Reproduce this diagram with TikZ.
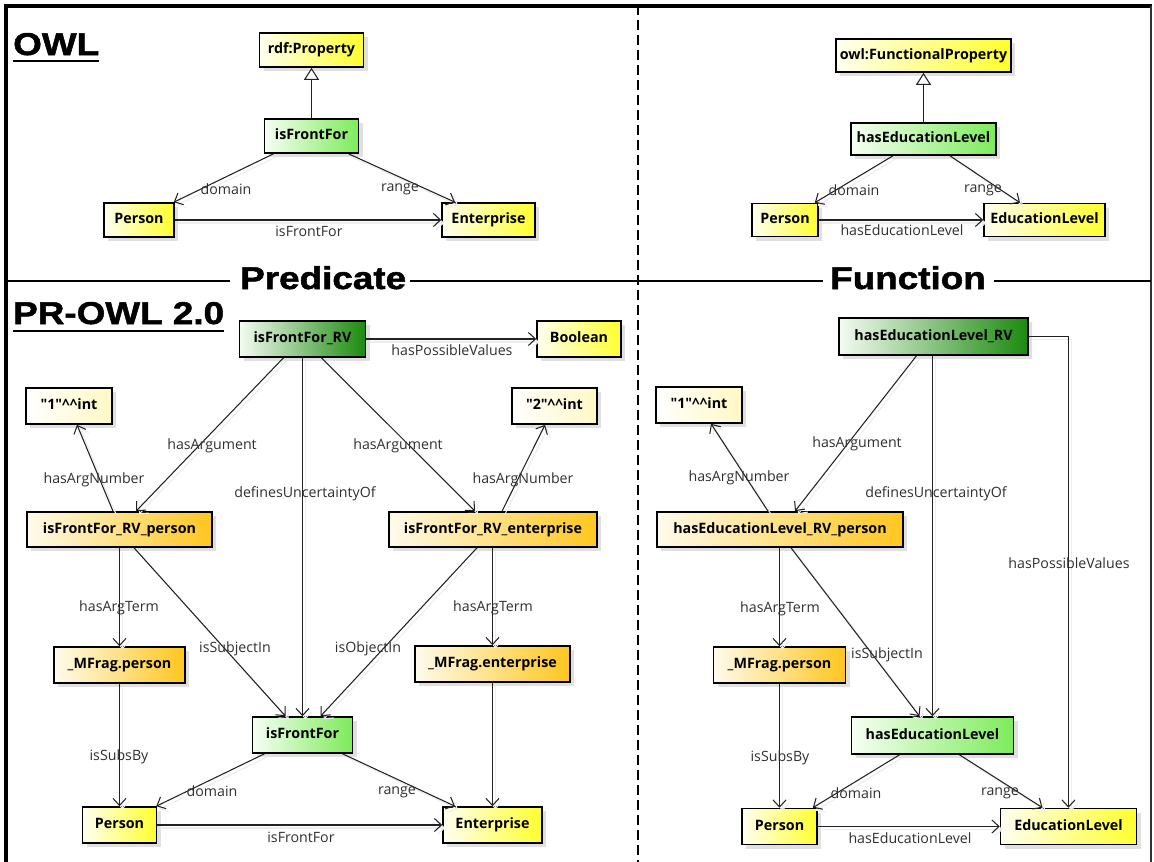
\documentclass[tikz,border=0pt]{standalone}
\usepackage{fontspec}
\setmainfont{Open Sans}
\newfontfamily\titlefont{Liberation Sans}[FakeStretch=1.17,BoldFeatures={FakeBold=1.6}]
\usetikzlibrary{arrows.meta,shadows}

\definecolor{yelL}{HTML}{FFFFF0}
\definecolor{yelR}{HTML}{FFFF2E}
\definecolor{creamL}{HTML}{FFFFFF}
\definecolor{creamR}{HTML}{FFF8C4}
\definecolor{orgL}{HTML}{FFFBEC}
\definecolor{orgR}{HTML}{FFC61E}
\definecolor{lgrL}{HTML}{F6FFF3}
\definecolor{lgrR}{HTML}{7DEB5A}
\definecolor{dgrL}{HTML}{F4FBF2}
\definecolor{dgrR}{HTML}{1C8A0E}
\definecolor{linec}{HTML}{222222}
\definecolor{lblc}{HTML}{303030}

\newcommand{\intlit}[1]{\textquotedbl#1\textquotedbl\textasciicircum\textasciicircum int}

\tikzset{
  box/.style={draw=black, line width=1.6pt, inner sep=0pt,
    font=\fontsize{14.3}{16}\selectfont\bfseries,
    text height=10.5pt, text depth=3pt,
    drop shadow={shadow xshift=4pt, shadow yshift=-4pt, fill=black!12, opacity=1}},
  yel/.style={box, left color=yelL, right color=yelR},
  cream/.style={box, left color=creamL, right color=creamR},
  orng/.style={box, left color=orgL, right color=orgR},
  lgrn/.style={box, left color=lgrL, right color=lgrR},
  dgrn/.style={box, left color=dgrL, right color=dgrR},
  link/.style={draw=linec, line width=1.05pt,
    -{Straight Barb[length=7pt,width=13pt]},
    preaction={draw=black!7, line width=1.05pt, transform canvas={shift={(3pt,-3pt)}}}},
  gen/.style={draw=linec, line width=1.05pt,
    -{Triangle[open,length=12pt,width=15pt]}},
  lbl/.style={font=\fontsize{14.2}{16}\selectfont, text=lblc, inner sep=0pt},
  title/.style={font=\titlefont\bfseries\fontsize{31.5}{32}\selectfont,
    inner sep=0pt, anchor=base west},
  framel/.style={line width=4pt, draw=black},
  rule/.style={line width=2.6pt, draw=black},
}

\begin{document}
\begin{tikzpicture}[x=1pt,y=-1pt]
\useasboundingbox (0,0) rectangle (1154,862);
\fill[white] (0,0) rectangle (1154,862);

% ---------- frame and separators ----------
\coordinate (fTR) at (1151,5.5);
\draw[framel] (5.5,862) -- (5.5,5.5) -- (1152,5.5);
\draw[line width=2.4pt, draw=black!80] (fTR) -- (1151,862);
\draw[line width=2.6pt, dash pattern=on 10pt off 5pt] (638,5) -- (638,862);

\node[title] (owl) at (13,55) {OWL};
\node[title] (prowl) at (13,324) {PR-OWL 2.0};
\node[title] (pred) at (240,289) {Predicate};
\node[title] (func) at (830,289) {Function};

\draw[line width=2.4pt] ([yshift=-6pt]owl.base west) -- ([yshift=-6pt]owl.base east);
\draw[line width=2.4pt] ([yshift=-7pt]prowl.base west) -- ([yshift=-7pt]prowl.base east);

\coordinate (hl) at (5,281);
\coordinate (hr) at (1151,281);
\draw[rule, shorten >=10pt] (hl) -- (hl -| pred.west);
\draw[rule, shorten <=4pt, shorten >=7pt] (hl -| pred.east) -- (hl -| func.west);
\draw[rule, shorten <=8pt] (hl -| func.east) -- (hr);

% ---------- OWL: predicate ----------
\node[yel, minimum width=104pt, minimum height=34pt] (rdfprop) at (311.5,50) {rdf:Property};
\node[lgrn, minimum width=94pt, minimum height=34pt] (owlIff) at (311.5,136) {isFrontFor};
\node[yel, minimum width=70pt, minimum height=34pt] (owlPer) at (139,220) {Person};
\node[yel, minimum width=93pt, minimum height=34pt] (owlEnt) at (488.5,220) {Enterprise};

\draw[gen] (owlIff.north) -- (rdfprop.south);
\draw[link] ([xshift=-38pt]owlIff.south) -- ([xshift=-1pt]owlPer.north east);
\draw[link] ([xshift=37pt]owlIff.south) -- ([xshift=-33.5pt]owlEnt.north);
\draw[link] (owlPer.east) -- (owlEnt.west);
\node[lbl] (lOwlDom) at (226,189) {domain};
\node[lbl] (lOwlRan) at (400,189) {range};
\node[lbl] (lOwlIff) at (309,231) {isFrontFor};

% ---------- OWL: function ----------
\node[yel, minimum width=175pt, minimum height=33pt] (funcprop) at (923.5,55.5) {owl:FunctionalProperty};
\node[lgrn, minimum width=145pt, minimum height=32pt] (owlHel) at (923.5,139) {hasEducationLevel};
\node[yel, minimum width=66pt, minimum height=33pt] (owlPerF) at (785,220) {Person};
\node[yel, minimum width=121pt, minimum height=33pt] (owlEdu) at (1044.5,220) {EducationLevel};

\draw[gen] (owlHel.north) -- (funcprop.south);
\draw[link] ([xshift=-30.5pt]owlHel.south) -- ([xshift=-4pt]owlPerF.north east);
\draw[link] ([xshift=26.5pt]owlHel.south) -- ([xshift=-24.5pt]owlEdu.north);
\draw[link] (owlPerF.east) -- (owlEdu.west);
\node[lbl] (lFDom) at (854,190) {domain};
\node[lbl] (lFRan) at (983,190) {range};
\node[lbl] (lFHel) at (902,230) {hasEducationLevel};

% ---------- PR-OWL 2.0: predicate ----------
\node[dgrn, minimum width=126pt, minimum height=36pt] (rv) at (302.5,339) {isFrontFor\_RV};
\node[yel, minimum width=84pt, minimum height=36pt] (bool) at (579,339) {Boolean};
\node[cream, minimum width=86pt, minimum height=36pt] (intA) at (69,406) {\intlit{1}};
\node[cream, minimum width=85pt, minimum height=36pt] (intB) at (554.5,406) {\intlit{2}};
\node[orng, minimum width=185pt, minimum height=35pt] (rvPer) at (119.5,529.5) {isFrontFor\_RV\_person};
\node[orng, minimum width=208pt, minimum height=35pt] (rvEnt) at (493,529.5) {isFrontFor\_RV\_enterprise};
\node[orng, minimum width=131pt, minimum height=36pt] (mfPer) at (119.5,665) {\_MFrag.person};
\node[orng, minimum width=155pt, minimum height=36pt] (mfEnt) at (492.5,664) {\_MFrag.enterprise};
\node[lgrn, minimum width=100pt, minimum height=36pt] (iff) at (302.5,735) {isFrontFor};
\node[yel, minimum width=74pt, minimum height=36pt] (per) at (119.5,825) {Person};
\node[yel, minimum width=99pt, minimum height=36pt] (ent) at (492.5,825) {Enterprise};

\draw[link] (rv.east) -- (bool.west);
\draw[link] ([xshift=-19pt]rv.south) -- ([xshift=16.5pt]rvPer.north);
\draw[link] ([xshift=19pt]rv.south) -- ([xshift=-18pt]rvEnt.north);
\draw[link] (rv.south) -- (iff.north);
\draw[link] ([xshift=-6.5pt]rvPer.north) -- ([xshift=8pt]intA.south);
\draw[link] ([xshift=9pt]rvEnt.north) -- ([xshift=-9.5pt]intB.south);
\draw[link] (rvPer.south) -- (mfPer.north);
\draw[link] (rvEnt.south -| mfEnt.north) -- (mfEnt.north);
\draw[link] ([xshift=14.5pt]rvPer.south) -- ([xshift=-17pt]iff.north);
\draw[link] ([xshift=-16pt]rvEnt.south) -- ([xshift=18pt]iff.north);
\draw[link] (mfPer.south) -- (per.north);
\draw[link] (mfEnt.south) -- (ent.north);
\draw[link] ([xshift=-38pt]iff.south) -- ([xshift=-1pt]per.north east);
\draw[link] ([xshift=40pt]iff.south) -- ([xshift=-37.5pt]ent.north);
\draw[link] (per.east) -- (ent.west);

\node[lbl] (lPV) at (452,350) {hasPossibleValues};
\node[lbl] (lArgA) at (212,446) {hasArgument};
\node[lbl] (lArgB) at (398,446) {hasArgument};
\node[lbl] (lNumA) at (94,480) {hasArgNumber};
\node[lbl] (lNumB) at (523,480) {hasArgNumber};
\node[lbl] (lDef) at (305,494) {definesUncertaintyOf};
\node[lbl] (lTermA) at (119,608) {hasArgTerm};
\node[lbl] (lTermB) at (493,608) {hasArgTerm};
\node[lbl] (lSubj) at (235,649) {isSubjectIn};
\node[lbl] (lObj) at (368,649) {isObjectIn};
\node[lbl] (lSubs) at (119,757) {isSubsBy};
\node[lbl] (lDom) at (212,791) {domain};
\node[lbl] (lRan) at (397,792) {range};
\node[lbl] (lIff) at (301,837) {isFrontFor};

% ---------- PR-OWL 2.0: function ----------
\node[dgrn, minimum width=189pt, minimum height=37pt] (hrv) at (933.5,336.5) {hasEducationLevel\_RV};
\node[cream, minimum width=86pt, minimum height=36pt] (intC) at (699,405) {\intlit{1}};
\node[orng, minimum width=246pt, minimum height=35pt] (hrvPer) at (780,529.5) {hasEducationLevel\_RV\_person};
\node[orng, minimum width=132pt, minimum height=36pt] (mfPerF) at (779.5,665) {\_MFrag.person};
\node[lgrn, minimum width=162pt, minimum height=37pt] (hel) at (932.5,735.5) {hasEducationLevel};
\node[yel, minimum width=75pt, minimum height=36pt] (perF) at (779.5,826.5) {Person};
\node[yel, minimum width=136pt, minimum height=36pt] (edu) at (1068.5,826.5) {EducationLevel};

\draw[link] ([xshift=-17pt]hrv.south) -- ([xshift=15pt]hrvPer.north);
\draw[link] ([xshift=-12pt]hrvPer.north) -- ([xshift=12pt]intC.south);
\draw[link] (hrv.south -| hel.north) -- (hel.north);
\draw[link] (hrv.east) -| (edu.north);
\draw[link] (hrvPer.south -| mfPerF.north) -- (mfPerF.north);
\draw[link] ([xshift=11pt]hrvPer.south) -- ([xshift=-13pt]hel.north);
\draw[link] (mfPerF.south) -- (perF.north);
\draw[link] ([xshift=-33pt]hel.south) -- ([xshift=-5pt]perF.north east);
\draw[link] ([xshift=27pt]hel.south) -- ([xshift=-26pt]edu.north);
\draw[link] (perF.east) -- (edu.west);

\node[lbl] (lFArg) at (857,444) {hasArgument};
\node[lbl] (lFNum) at (739,478) {hasArgNumber};
\node[lbl] (lFDef) at (936,494) {definesUncertaintyOf};
\node[lbl] (lFPV) at (1069,563) {hasPossibleValues};
\node[lbl] (lFTerm) at (780,609) {hasArgTerm};
\node[lbl] (lFSubj) at (887,655) {isSubjectIn};
\node[lbl] (lFSubs) at (780,758) {isSubsBy};
\node[lbl] (lFDom) at (856,793) {domain};
\node[lbl] (lFRan) at (1000,793) {range};
\node[lbl] (lFHel2) at (910,838) {hasEducationLevel};
\end{tikzpicture}
\end{document}
